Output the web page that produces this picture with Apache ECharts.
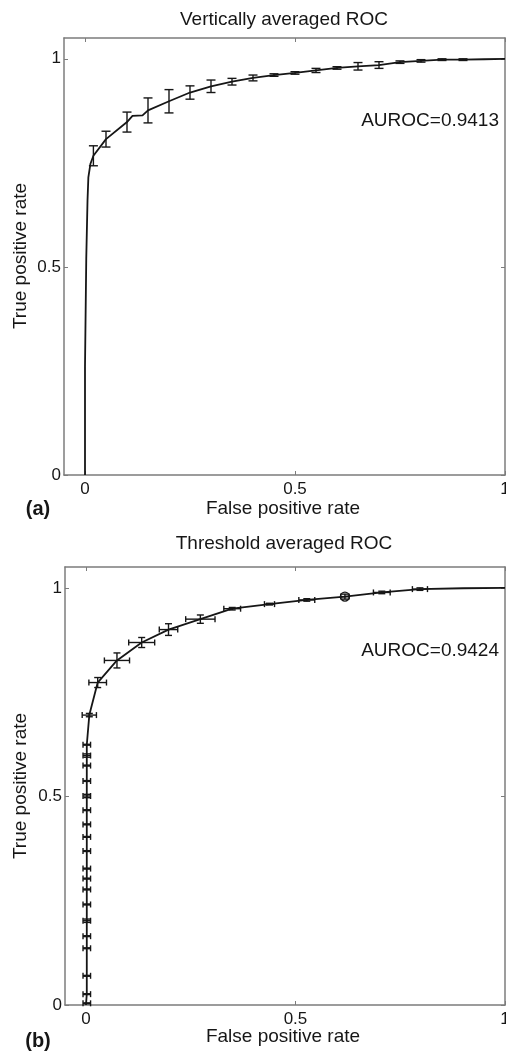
<!DOCTYPE html>
<html>
<head>
<meta charset="utf-8">
<script src="https://cdn.jsdelivr.net/npm/echarts@6/dist/echarts.min.js"></script>
<style>
  html, body { margin: 0; padding: 0; background: #fff; }
  #chart { width: 506px; height: 1057px; }
</style>
</head>
<body>
<div id="chart"></div>
<script>
// Tick positions shared by both panels
const xTicks = [0, 0.5, 1];
const yTicks = [0, 0.5, 1];

// (a) Vertically averaged ROC: curve vertices
const curveFprA = [0, 0, 0.003, 0.003, 0.005, 0.006, 0.008, 0.013, 0.02, 0.05, 0.1, 0.113, 0.137, 0.15, 0.2, 0.25, 0.3, 0.35, 0.4, 0.45, 0.5, 0.55, 0.6, 0.65, 0.7, 0.75, 0.8, 0.85, 0.9, 0.95, 1];
const curveTprA = [0, 0.26, 0.26, 0.52, 0.52, 0.66, 0.715, 0.748, 0.767, 0.807, 0.848, 0.863, 0.864, 0.876, 0.898, 0.919, 0.934, 0.945, 0.954, 0.961, 0.966, 0.972, 0.978, 0.982, 0.985, 0.992, 0.995, 0.998, 0.998, 0.999, 1];
// (a) error bars: FPR sample, mean TPR, half-width
const barFprA  = [0.02, 0.05, 0.1, 0.15, 0.2, 0.25, 0.3, 0.35, 0.4, 0.45, 0.5, 0.55, 0.6, 0.65, 0.7, 0.75, 0.8, 0.85, 0.9];
const barMeanA = [0.767, 0.807, 0.848, 0.876, 0.898, 0.919, 0.934, 0.945, 0.954, 0.961, 0.966, 0.972, 0.978, 0.982, 0.985, 0.992, 0.995, 0.998, 0.998];
const barErrA  = [0.024, 0.019, 0.024, 0.030, 0.028, 0.016, 0.015, 0.008, 0.007, 0.003, 0.003, 0.005, 0.003, 0.009, 0.008, 0.003, 0.003, 0.002, 0.002];
const aurocA = 'AUROC=0.9413';

// (b) Threshold averaged ROC: averaged points with FPR / TPR half-widths
const thrFprB = [0.002, 0.002, 0.002, 0.002, 0.002, 0.002, 0.002, 0.002, 0.002, 0.002, 0.002, 0.002, 0.002, 0.002, 0.002, 0.002, 0.002, 0.002, 0.002, 0.008, 0.028, 0.074, 0.133, 0.197, 0.273, 0.349, 0.438, 0.527, 0.618, 0.706, 0.797];
const thrTprB = [0.004, 0.026, 0.070, 0.136, 0.165, 0.202, 0.241, 0.277, 0.303, 0.327, 0.369, 0.403, 0.433, 0.467, 0.501, 0.537, 0.574, 0.598, 0.624, 0.695, 0.773, 0.826, 0.869, 0.900, 0.925, 0.950, 0.961, 0.971, 0.979, 0.989, 0.997];
const fprErrB = [0.009, 0.009, 0.009, 0.009, 0.009, 0.009, 0.009, 0.009, 0.009, 0.009, 0.009, 0.009, 0.009, 0.009, 0.009, 0.009, 0.009, 0.009, 0.009, 0.017, 0.021, 0.030, 0.031, 0.022, 0.035, 0.020, 0.012, 0.019, 0.010, 0.020, 0.018];
const tprErrB = [0.001, 0.001, 0.001, 0.001, 0.001, 0.004, 0.001, 0.001, 0.001, 0.001, 0.001, 0.001, 0.001, 0.001, 0.004, 0.001, 0.001, 0.004, 0.001, 0.004, 0.012, 0.018, 0.012, 0.014, 0.010, 0.003, 0.002, 0.003, 0.006, 0.003, 0.003];
const startB = [[0, 0]];
const tailB = [[0.9, 0.999], [1, 1]];
const circledPointB = [[0.618, 0.979]];
const aurocB = 'AUROC=0.9424';

const FONT = '"Liberation Sans", Arial, Helvetica, sans-serif';
const INK = '#161616';
const FRAME = '#7c7c7c';

function xAxisPair(gridIndex) {
  const base = {
    gridIndex, type: 'value', min: -0.05, max: 1,
    axisLine: { show: true, onZero: false, lineStyle: { color: FRAME, width: 1.5 } },
    axisTick: { show: true, inside: true, length: 4, customValues: xTicks, lineStyle: { color: FRAME, width: 1 } },
    splitLine: { show: false }
  };
  return [
    Object.assign({}, base, {
      position: 'bottom',
      axisLabel: { show: true, customValues: xTicks, margin: 6, color: INK, fontSize: 17, fontFamily: FONT, formatter: v => String(v) }
    }),
    Object.assign({}, base, { position: 'top', axisLabel: { show: false } })
  ];
}
function yAxisPair(gridIndex) {
  const base = {
    gridIndex, type: 'value', min: 0, max: 1.05,
    axisLine: { show: true, onZero: false, lineStyle: { color: FRAME, width: 1.5 } },
    axisTick: { show: true, inside: true, length: 4, customValues: yTicks, lineStyle: { color: FRAME, width: 1 } },
    splitLine: { show: false }
  };
  return [
    Object.assign({}, base, {
      position: 'left',
      axisLabel: { show: true, customValues: yTicks, margin: 3, color: INK, fontSize: 17, fontFamily: FONT, formatter: v => String(v) }
    }),
    Object.assign({}, base, { position: 'right', axisLabel: { show: false } })
  ];
}

const barStyle = { stroke: INK, lineWidth: 1.4 };
function seg(x1, y1, x2, y2) {
  return { type: 'line', shape: { x1, y1, x2, y2 }, style: barStyle };
}

// Vertical error bars with caps
function renderVerticalBars(params, api) {
  const x = api.value(0), m = api.value(1), e = api.value(2);
  const lo = api.coord([x, m - e]);
  const hi = api.coord([x, m + e]);
  const c = 4.5;
  return {
    type: 'group',
    children: [
      seg(lo[0], lo[1], hi[0], hi[1]),
      seg(lo[0] - c, lo[1], lo[0] + c, lo[1]),
      seg(hi[0] - c, hi[1], hi[0] + c, hi[1])
    ]
  };
}

// Horizontal and vertical error bars with caps
function renderCrossBars(params, api) {
  const x = api.value(0), y = api.value(1), ex = api.value(2), ey = api.value(3);
  const l = api.coord([x - ex, y]);
  const r = api.coord([x + ex, y]);
  const b = api.coord([x, y - ey]);
  const t = api.coord([x, y + ey]);
  const ch = 3, cv = 3.5;
  return {
    type: 'group',
    children: [
      seg(l[0], l[1], r[0], r[1]),
      seg(l[0], l[1] - ch, l[0], l[1] + ch),
      seg(r[0], r[1] - ch, r[0], r[1] + ch),
      seg(b[0], b[1], t[0], t[1]),
      seg(b[0] - cv, b[1], b[0] + cv, b[1]),
      seg(t[0] - cv, t[1], t[0] + cv, t[1])
    ]
  };
}

// Open circle drawn over one averaged point
function renderRing(params, api) {
  const p = api.coord([api.value(0), api.value(1)]);
  return {
    type: 'circle',
    shape: { cx: p[0], cy: p[1], r: 4.5 },
    style: { fill: 'none', stroke: INK, lineWidth: 1.4 }
  };
}

const curveA = curveFprA.map((x, i) => [x, curveTprA[i]]);
const barsA = barFprA.map((x, i) => [x, barMeanA[i], barErrA[i]]);
const pointsB = thrFprB.map((x, i) => [x, thrTprB[i], fprErrB[i], tprErrB[i]]);
const curveB = startB.concat(thrFprB.map((x, i) => [x, thrTprB[i]]), tailB);

function label(text, x, y, opts) {
  return Object.assign({
    type: 'text', x, y, silent: true,
    style: Object.assign({
      text, fontSize: 19, fontFamily: FONT, fill: INK, align: 'center', verticalAlign: 'middle'
    }, (opts && opts.style) || {})
  }, opts && opts.rotation !== undefined ? { rotation: opts.rotation } : {});
}

const chart = echarts.init(document.getElementById('chart'), null, { renderer: 'canvas' });
chart.setOption({
  animation: false,
  backgroundColor: '#ffffff',
  grid: [
    { left: 64, top: 38, width: 441, height: 437, containLabel: false, outerBoundsMode: 'none' },
    { left: 65, top: 567, width: 440, height: 438, containLabel: false, outerBoundsMode: 'none' }
  ],
  xAxis: xAxisPair(0).concat(xAxisPair(1)),
  yAxis: yAxisPair(0).concat(yAxisPair(1)),
  series: [
    {
      name: 'Vertically averaged', type: 'line', xAxisIndex: 0, yAxisIndex: 0,
      data: curveA, symbol: 'none', showSymbol: false, smooth: false,
      lineStyle: { color: INK, width: 1.8 }, z: 3
    },
    {
      name: 'Vertical spread', type: 'custom', xAxisIndex: 0, yAxisIndex: 0,
      data: barsA, encode: { x: 0, y: 1 }, renderItem: renderVerticalBars, z: 4
    },
    {
      name: 'Threshold averaged', type: 'line', xAxisIndex: 2, yAxisIndex: 2,
      data: curveB, symbol: 'none', showSymbol: false, smooth: false,
      lineStyle: { color: INK, width: 1.8 }, z: 3
    },
    {
      name: 'Threshold spread', type: 'custom', xAxisIndex: 2, yAxisIndex: 2,
      data: pointsB, encode: { x: 0, y: 1 }, renderItem: renderCrossBars, z: 4
    },
    {
      name: 'Marked point', type: 'custom', xAxisIndex: 2, yAxisIndex: 2,
      data: circledPointB, encode: { x: 0, y: 1 }, renderItem: renderRing, z: 5
    }
  ],
  graphic: [
    label('Vertically averaged ROC', 284, 20),
    label(aurocA, 499, 121, { style: { align: 'right' } }),
    label('False positive rate', 283, 509),
    label('True positive rate', 21, 256, { rotation: Math.PI / 2 }),
    label('(a)', 38, 509, { style: { fontWeight: 'bold', fontSize: 20 } }),

    label('Threshold averaged ROC', 284, 544),
    label(aurocB, 499, 651, { style: { align: 'right' } }),
    label('False positive rate', 283, 1037),
    label('True positive rate', 21, 786, { rotation: Math.PI / 2 }),
    label('(b)', 38, 1041, { style: { fontWeight: 'bold', fontSize: 20 } })
  ]
});
</script>
</body>
</html>
